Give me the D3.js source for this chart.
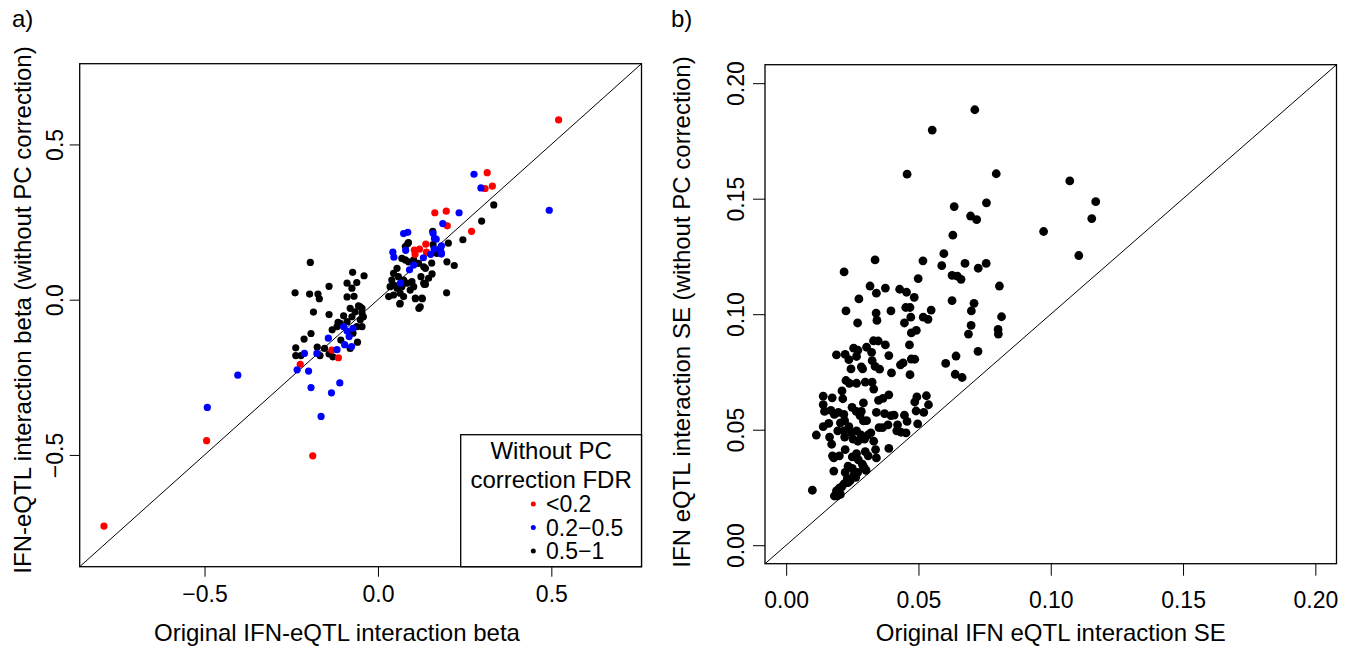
<!DOCTYPE html>
<html>
<head>
<meta charset="utf-8">
<script src="https://cdn.jsdelivr.net/npm/d3@7"></script>
<style>
  body { margin: 0; background: #fff; }
  svg { display: block; }
  text { font-family: "Liberation Sans", Arial, sans-serif; fill: #000; }
</style>
</head>
<body>
<svg id="chart" width="1354" height="650"></svg>
<script>
// Panel a: [original beta, beta without PC correction], grouped by FDR class
const fdrLow = [
  [0.521, 0.579], [0.315, 0.409], [0.330, 0.366], [0.309, 0.358], [0.164, 0.280],
  [0.197, 0.285], [0.200, 0.238], [0.270, 0.220], [0.138, 0.179], [0.105, 0.160],
  [0.120, 0.163], [0.107, 0.146], [0.140, 0.153], [-0.224, -0.208], [-0.133, -0.162],
  [-0.114, -0.187], [-0.494, -0.454], [-0.188, -0.503], [-0.790, -0.729]
];
const fdrMid = [
  [0.277, 0.404], [0.297, 0.360], [0.494, 0.288], [0.234, 0.280], [0.187, 0.245],
  [0.159, 0.214], [0.163, 0.197], [0.168, 0.195], [0.179, 0.163], [0.183, 0.151],
  [0.074, 0.213], [0.086, 0.217], [0.043, 0.153], [0.046, 0.137], [0.080, 0.159],
  [0.183, 0.173], [0.180, 0.162], [0.183, 0.147], [0.162, 0.163], [0.152, 0.146],
  [0.131, 0.135], [0.091, 0.096], [0.103, 0.112], [0.065, 0.053],
  [-0.404, -0.243], [-0.233, -0.226], [-0.200, -0.230], [-0.193, -0.283], [-0.134, -0.300],
  [-0.110, -0.268], [-0.212, -0.173], [-0.176, -0.173], [-0.143, -0.124], [-0.118, -0.161],
  [-0.096, -0.145], [-0.076, -0.151], [-0.083, -0.119], [-0.089, -0.101], [-0.099, -0.087],
  [-0.072, -0.092], [-0.492, -0.347], [-0.164, -0.376]
];
const fdrHigh = [
  [0.334, 0.305], [0.299, 0.253], [0.245, 0.193], [0.220, 0.110], [0.199, 0.122],
  [0.198, 0.022], [0.158, 0.220], [0.155, 0.118], [0.134, 0.049], [0.086, 0.181],
  [0.118, -0.028], [0.063, -0.014], [0.108, 0.003], [0.128, 0.003], [0.203, 0.182],
  [0.088, 0.184], [0.079, 0.171], [0.159, 0.177], [0.170, 0.149],
  [0.069, 0.133], [0.079, 0.128], [0.088, 0.122], [0.103, 0.128], [0.117, 0.117],
  [0.132, 0.106], [0.137, 0.101], [0.156, 0.083], [0.146, 0.069], [0.124, 0.074],
  [0.132, 0.053], [0.055, 0.101], [0.045, 0.085], [0.059, 0.074], [0.040, 0.063],
  [0.045, 0.047], [0.035, 0.042], [0.055, 0.037], [0.069, 0.042], [0.084, 0.053],
  [0.074, 0.063], [0.098, 0.058], [0.103, 0.042], [0.093, 0.031], [0.064, 0.021],
  [0.045, 0.015], [0.031, 0.010], [0.074, 0.010], [0.108, 0.005], [0.127, 0.005],
  [0.122, -0.023], [0.064, -0.012], [0.137, 0.050],
  [-0.040, 0.077], [-0.051, -0.023], [-0.046, -0.044], [-0.195, 0.120], [-0.073, 0.088],
  [-0.239, 0.022], [-0.197, 0.018], [-0.173, 0.018], [-0.169, 0.003], [-0.141, 0.043],
  [-0.089, 0.053], [-0.061, 0.055], [-0.075, 0.037], [-0.069, 0.011], [-0.089, 0.009],
  [-0.186, -0.040], [-0.141, -0.048], [-0.080, -0.028], [-0.056, -0.020], [-0.046, -0.028],
  [-0.066, -0.039], [-0.042, -0.055], [-0.051, -0.065], [-0.075, -0.055], [-0.099, -0.052],
  [-0.109, -0.076], [-0.089, -0.071], [-0.061, -0.087], [-0.046, -0.087], [-0.132, -0.097],
  [-0.115, -0.073], [-0.118, -0.087], [-0.193, -0.109], [-0.213, -0.127], [-0.237, -0.155],
  [-0.237, -0.180], [-0.222, -0.180], [-0.175, -0.153], [-0.154, -0.157], [-0.167, -0.180],
  [-0.141, -0.175], [-0.130, -0.184], [-0.107, -0.130], [-0.080, -0.157], [-0.059, -0.137],
  [-0.072, -0.108]
];
const legendLabels = ["<0.2", "0.2\u22120.5", "0.5\u22121"];
const legendColors = ["#ff0000", "#0000ff", "#000000"];
const betaTicks = [-0.5, 0, 0.5];

// Panel b: standard errors [original, without PC correction]
const seOriginal = [
  0.0713, 0.0552, 0.0457, 0.0794, 0.1072, 0.1170, 0.1155, 0.0973, 0.1106, 0.0757,
  0.0635, 0.0697, 0.0720, 0.0630, 0.0596, 0.0588, 0.0517, 0.0676, 0.0756, 0.0726,
  0.0627, 0.0647, 0.0661, 0.0499, 0.0806, 0.0627, 0.0710, 0.0700, 0.0814, 0.0699,
  0.0801, 0.0802, 0.0689, 0.0725, 0.0642, 0.0603, 0.0639, 0.0665, 0.0336, 0.0219,
  0.0226, 0.0275, 0.0270, 0.0317, 0.0341, 0.0375, 0.0340, 0.0343, 0.0396, 0.0429,
  0.0455, 0.0452, 0.0468, 0.0484, 0.0471, 0.0447, 0.0492, 0.0473, 0.0466, 0.0518,
  0.0536, 0.0548, 0.0473, 0.0486, 0.0432, 0.0442, 0.0468, 0.0398, 0.0388, 0.0375,
  0.0330, 0.0348, 0.0325, 0.0353, 0.0336, 0.0304, 0.0323, 0.0255, 0.0271, 0.0266,
  0.0223, 0.0237, 0.0190, 0.0245, 0.0284, 0.0289, 0.0226, 0.0239, 0.0266, 0.0299,
  0.0325, 0.0331, 0.0211, 0.0349, 0.0366, 0.0388, 0.0341, 0.0292, 0.0284, 0.0214,
  0.0140, 0.0140, 0.0174, 0.0145, 0.0169, 0.0182, 0.0197, 0.0218, 0.0249, 0.0265,
  0.0279, 0.0292, 0.0304, 0.0372, 0.0396, 0.0351, 0.0364, 0.0385, 0.0408, 0.0421,
  0.0434, 0.0418, 0.0447, 0.0457, 0.0453, 0.0497, 0.0486, 0.0494, 0.0491, 0.0520,
  0.0530, 0.0538, 0.0099, 0.0114, 0.0140, 0.0161, 0.0164, 0.0172, 0.0175, 0.0180,
  0.0180, 0.0195, 0.0218, 0.0205, 0.0221, 0.0221, 0.0223, 0.0201, 0.0237, 0.0247,
  0.0253, 0.0266, 0.0250, 0.0266, 0.0283, 0.0296, 0.0309, 0.0320, 0.0299, 0.0310,
  0.0331, 0.0338, 0.0341, 0.0388, 0.0271, 0.0273, 0.0288, 0.0291, 0.0296, 0.0234,
  0.0250, 0.0257, 0.0263, 0.0223, 0.0231, 0.0218, 0.0210, 0.0201, 0.0190, 0.0182,
  0.0205, 0.0193, 0.0234, 0.0242, 0.0270, 0.0302
];
const seNoPC = [
  0.1885, 0.1797, 0.1606, 0.1608, 0.1577, 0.1487, 0.1414, 0.1358, 0.1254, 0.1482,
  0.1466, 0.1425, 0.1409, 0.1342, 0.1262, 0.1210, 0.1231, 0.1220, 0.1220, 0.1199,
  0.1168, 0.1165, 0.1151, 0.1154, 0.1122, 0.1059, 0.1047, 0.1014, 0.0989, 0.0952,
  0.0934, 0.0914, 0.0914, 0.0839, 0.0819, 0.0787, 0.0740, 0.0726, 0.1235, 0.1183,
  0.1014, 0.1066, 0.0962, 0.1122, 0.1091, 0.1113, 0.1005, 0.0973, 0.1014, 0.1108,
  0.1095, 0.1029, 0.1029, 0.1073, 0.0987, 0.0962, 0.0930, 0.0919, 0.0867, 0.0987,
  0.0978, 0.1018, 0.0806, 0.0805, 0.0781, 0.0789, 0.0738, 0.0746, 0.0821, 0.0867,
  0.0885, 0.0884, 0.0799, 0.0762, 0.0774, 0.0857, 0.0835, 0.0853, 0.0844, 0.0817,
  0.0826, 0.0803, 0.0824, 0.0763, 0.0772, 0.0763, 0.0713, 0.0701, 0.0701, 0.0706,
  0.0706, 0.0676, 0.0668, 0.0627, 0.0636, 0.0651, 0.0575, 0.0616, 0.0579, 0.0634,
  0.0645, 0.0609, 0.0638, 0.0579, 0.0584, 0.0566, 0.0575, 0.0566, 0.0597, 0.0579,
  0.0561, 0.0538, 0.0539, 0.0570, 0.0561, 0.0509, 0.0509, 0.0521, 0.0563, 0.0521,
  0.0489, 0.0495, 0.0563, 0.0536, 0.0486, 0.0525, 0.0620, 0.0642, 0.0581, 0.0575,
  0.0647, 0.0608, 0.0238, 0.0477, 0.0513, 0.0527, 0.0468, 0.0437, 0.0387, 0.0378,
  0.0321, 0.0495, 0.0495, 0.0530, 0.0539, 0.0468, 0.0414, 0.0387, 0.0513, 0.0486,
  0.0459, 0.0495, 0.0382, 0.0396, 0.0477, 0.0459, 0.0477, 0.0486, 0.0405, 0.0387,
  0.0450, 0.0414, 0.0378, 0.0419, 0.0450, 0.0369, 0.0351, 0.0342, 0.0333, 0.0342,
  0.0333, 0.0306, 0.0294, 0.0315, 0.0289, 0.0265, 0.0253, 0.0247, 0.0235, 0.0213,
  0.0220, 0.0213, 0.0271, 0.0280, 0.0315, 0.0324
];
const seTicks = [0, 0.05, 0.1, 0.15, 0.2];

const svg = d3.select("#chart");
svg.append("rect").attr("width", 1354).attr("height", 650).attr("fill", "#fff");

// R-like limits: data range padded by 4% each side
function padded(lo, hi) {
  const p = (hi - lo) * 0.04;
  return [lo - p, hi + p];
}

// ---------- panel a ----------
const boxA = { left: 79.7, right: 641.5, top: 63.7, bottom: 566.7 };
const xA = d3.scaleLinear().domain(padded(-0.8, 0.7)).range([boxA.left, boxA.right]);
const yA = d3.scaleLinear().domain(padded(-0.8, 0.7)).range([boxA.bottom, boxA.top]);

const gA = svg.append("g");

gA.append("line")
  .attr("x1", xA(-0.86)).attr("y1", yA(-0.86))
  .attr("x2", xA(0.76)).attr("y2", yA(0.76))
  .attr("stroke", "#000").attr("stroke-width", 1);

const groups = [
  { pts: fdrHigh, color: legendColors[2] },
  { pts: fdrLow, color: legendColors[0] },
  { pts: fdrMid, color: legendColors[1] }
];
groups.forEach((grp) => {
  gA.append("g")
    .selectAll("circle")
    .data(grp.pts)
    .join("circle")
    .attr("cx", (d) => xA(d[0]))
    .attr("cy", (d) => yA(d[1]))
    .attr("r", 3.6)
    .attr("fill", grp.color);
});

// bottom axis
gA.append("g")
  .attr("transform", `translate(0,${boxA.bottom})`)
  .call(d3.axisBottom(xA).tickValues(betaTicks).tickFormat(d3.format(".1f")).tickSize(10).tickSizeOuter(0))
  .call((g) => g.select(".domain").remove())
  .call((g) => g.selectAll("line").attr("stroke", "#000"))
  .call((g) => g.selectAll("text").attr("y", 35).attr("dy", 0)
    .style("font-size", "23px").attr("fill", "#000"));

// left axis
gA.append("g")
  .attr("transform", `translate(${boxA.left},0)`)
  .call(d3.axisLeft(yA).tickValues(betaTicks).tickFormat(d3.format(".1f")).tickSize(10).tickSizeOuter(0))
  .call((g) => g.select(".domain").remove())
  .call((g) => g.selectAll("line").attr("stroke", "#000"))
  .call((g) => g.selectAll("text").attr("x", 0).attr("dy", 0)
    .attr("transform", "translate(-16.4,0) rotate(-90)")
    .attr("text-anchor", "middle")
    .style("font-size", "23px").attr("fill", "#000"));

gA.append("rect")
  .attr("x", boxA.left).attr("y", boxA.top)
  .attr("width", boxA.right - boxA.left).attr("height", boxA.bottom - boxA.top)
  .attr("fill", "none").attr("stroke", "#000").attr("stroke-width", 1.3);

// legend
const leg = { left: 460.7, top: 434.7 };
gA.append("rect")
  .attr("x", leg.left).attr("y", leg.top)
  .attr("width", boxA.right - leg.left).attr("height", boxA.bottom - leg.top)
  .attr("fill", "#fff").attr("stroke", "#000").attr("stroke-width", 1.3);
["Without PC", "correction FDR"].forEach((t, i) => {
  gA.append("text")
    .attr("x", (leg.left + boxA.right) / 2).attr("y", 459 + i * 28.5)
    .attr("text-anchor", "middle").style("font-size", "24px").text(t);
});
legendLabels.forEach((t, i) => {
  const cy = 504 + i * 23.5;
  gA.append("circle").attr("cx", 533.3).attr("cy", cy).attr("r", 2.5).attr("fill", legendColors[i]);
  gA.append("text").attr("x", 546).attr("y", cy + 8).style("font-size", "23px").text(t);
});

// titles
gA.append("text").attr("x", 154).attr("y", 641)
  .style("font-size", "24px")
  .text("Original IFN-eQTL interaction beta");
gA.append("text")
  .attr("transform", "translate(31,310) rotate(-90)")
  .attr("text-anchor", "middle").style("font-size", "24px")
  .text("IFN-eQTL interaction beta (without PC correction)");
gA.append("text").attr("x", 12).attr("y", 27).style("font-size", "24px").text("a)");

// ---------- panel b ----------
const boxB = { left: 765, right: 1336.5, top: 64.7, bottom: 563.7 };
const xB = d3.scaleLinear().domain(padded(0, 0.2)).range([boxB.left, boxB.right]);
const yB = d3.scaleLinear().domain(padded(0, 0.2)).range([boxB.bottom, boxB.top]);
const gB = svg.append("g");

gB.append("line")
  .attr("x1", xB(-0.008)).attr("y1", yB(-0.008))
  .attr("x2", xB(0.208)).attr("y2", yB(0.208))
  .attr("stroke", "#000").attr("stroke-width", 1);

gB.append("g")
  .selectAll("circle")
  .data(seOriginal.map((v, i) => [v, seNoPC[i]]))
  .join("circle")
  .attr("cx", (d) => xB(d[0]))
  .attr("cy", (d) => yB(d[1]))
  .attr("r", 4.4)
  .attr("fill", "#000");

gB.append("g")
  .attr("transform", `translate(0,${boxB.bottom})`)
  .call(d3.axisBottom(xB).tickValues(seTicks).tickFormat(d3.format(".2f")).tickSize(12).tickSizeOuter(0))
  .call((g) => g.select(".domain").remove())
  .call((g) => g.selectAll("line").attr("stroke", "#000"))
  .call((g) => g.selectAll("text").attr("y", 44.6).attr("dy", 0)
    .style("font-size", "23px").attr("fill", "#000"));

gB.append("g")
  .attr("transform", `translate(${boxB.left},0)`)
  .call(d3.axisLeft(yB).tickValues(seTicks).tickFormat(d3.format(".2f")).tickSize(12).tickSizeOuter(0))
  .call((g) => g.select(".domain").remove())
  .call((g) => g.selectAll("line").attr("stroke", "#000"))
  .call((g) => g.selectAll("text").attr("x", 0).attr("dy", 0)
    .attr("transform", "translate(-20.7,0) rotate(-90)")
    .attr("text-anchor", "middle")
    .style("font-size", "23px").attr("fill", "#000"));

gB.append("rect")
  .attr("x", boxB.left).attr("y", boxB.top)
  .attr("width", boxB.right - boxB.left).attr("height", boxB.bottom - boxB.top)
  .attr("fill", "none").attr("stroke", "#000").attr("stroke-width", 1.3);

gB.append("text").attr("x", (boxB.left + boxB.right) / 2).attr("y", 641)
  .attr("text-anchor", "middle").style("font-size", "24px")
  .text("Original IFN eQTL interaction SE");
gB.append("text")
  .attr("transform", "translate(690,312) rotate(-90)")
  .attr("text-anchor", "middle").style("font-size", "24px")
  .text("IFN eQTL interaction SE (without PC correction)");
gB.append("text").attr("x", 671).attr("y", 27).style("font-size", "24px").text("b)");
</script>
</body>
</html>
